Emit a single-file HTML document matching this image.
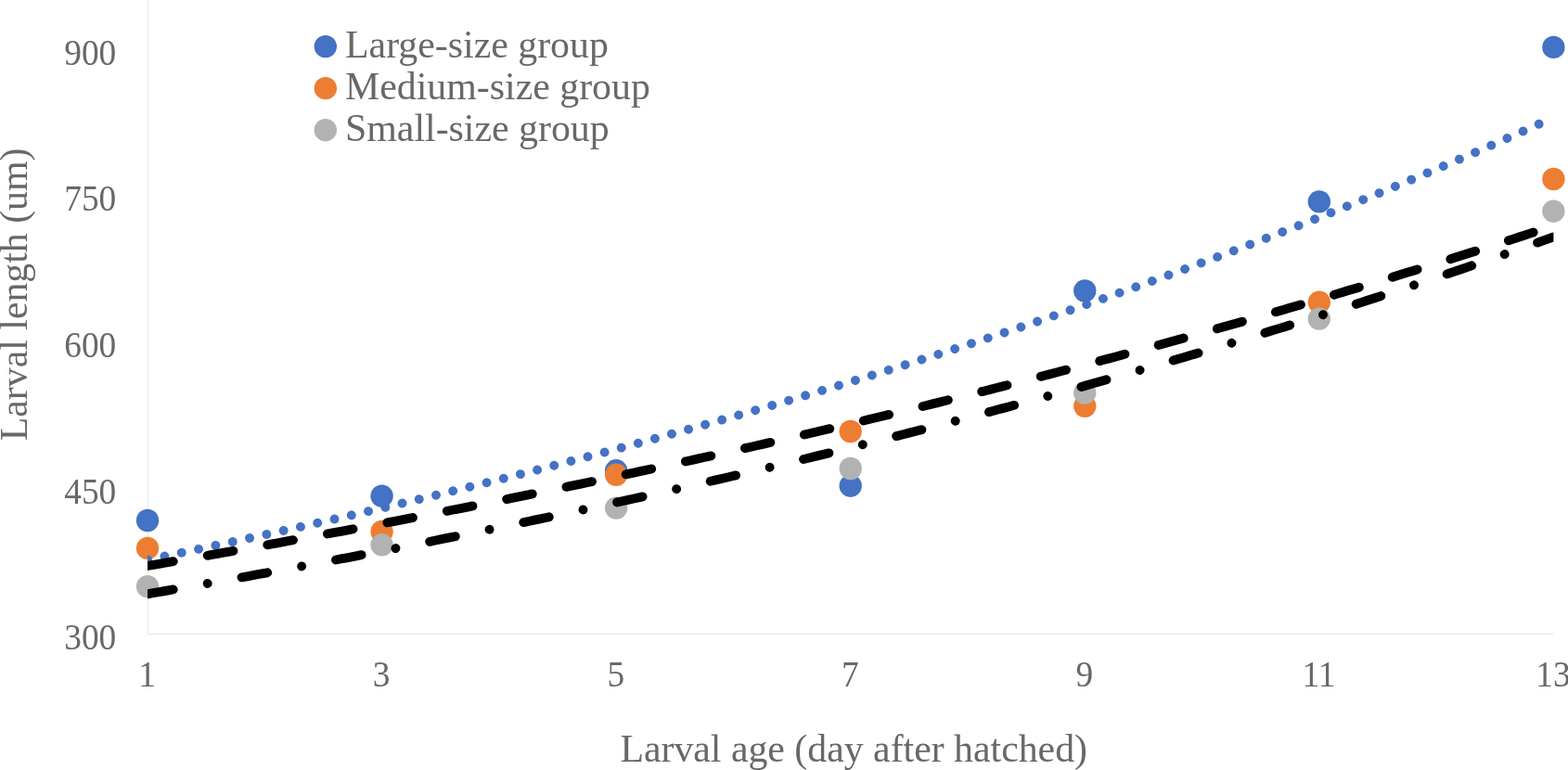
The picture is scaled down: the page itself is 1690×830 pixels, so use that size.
<!DOCTYPE html>
<html lang="en">
<head>
<meta charset="utf-8">
<title>Larval length by larval age</title>
<style>
html,body{margin:0;padding:0;background:#fff;}
body{width:1690px;height:830px;overflow:hidden;}
svg{display:block;}
text{font-family:"Liberation Serif","Times New Roman",Times,serif;fill:#686868;}
.tick{font-size:37.33px;}
.leg{font-size:41.85px;}
.ttl{font-size:41.8px;}
</style>
</head>
<body>
<svg width="1690" height="830" viewBox="0 0 1690 830">
<defs><clipPath id="plot"><rect x="159.0" y="0" width="1515.4" height="683.25"/></clipPath></defs>
<rect width="1690" height="830" fill="#ffffff"/>
<g stroke="#E4E4E4" stroke-width="1" fill="none">
<line x1="159.3" y1="0" x2="159.3" y2="683.75"/>
<line x1="158.8" y1="683.25" x2="1674.4" y2="683.25"/>
</g>
<g class="tick" text-anchor="end">
<text transform="translate(125.2 69.89) scale(1 1.06)">900</text>
<text transform="translate(125.2 227.48) scale(1 1.06)">750</text>
<text transform="translate(125.2 385.07) scale(1 1.06)">600</text>
<text transform="translate(125.2 542.66) scale(1 1.06)">450</text>
<text transform="translate(125.2 700.25) scale(1 1.06)">300</text>
</g>
<g class="tick" text-anchor="middle">
<text transform="translate(158.60 740.3) scale(1 1.06)">1</text>
<text transform="translate(411.17 740.3) scale(1 1.06)">3</text>
<text transform="translate(663.73 740.3) scale(1 1.06)">5</text>
<text transform="translate(916.30 740.3) scale(1 1.06)">7</text>
<text transform="translate(1168.87 740.3) scale(1 1.06)">9</text>
<text transform="translate(1421.43 740.3) scale(1 1.06)">11</text>
<text transform="translate(1674.00 740.3) scale(1 1.06)">13</text>
</g>
<text class="ttl" text-anchor="middle" x="920.2" y="820.7">Larval age (day after hatched)</text>
<text class="ttl" text-anchor="middle" transform="translate(28.8 317.4) rotate(-90)">Larval length (um)</text>
<g fill="#4472C4">
<circle cx="159.00" cy="561.00" r="12.2"/>
<circle cx="411.57" cy="534.70" r="12.2"/>
<circle cx="664.13" cy="507.30" r="12.2"/>
<circle cx="916.70" cy="523.70" r="12.2"/>
<circle cx="1169.27" cy="313.50" r="12.2"/>
<circle cx="1421.83" cy="217.40" r="12.2"/>
<circle cx="1674.40" cy="50.90" r="12.2"/>
</g>
<g fill="#ED7D31">
<circle cx="159.00" cy="590.90" r="12.2"/>
<circle cx="411.57" cy="572.90" r="12.2"/>
<circle cx="664.13" cy="511.80" r="12.2"/>
<circle cx="916.70" cy="465.00" r="12.2"/>
<circle cx="1169.27" cy="437.80" r="12.2"/>
<circle cx="1421.83" cy="325.80" r="12.2"/>
<circle cx="1674.40" cy="193.00" r="12.2"/>
</g>
<g fill="#B2B2B2">
<circle cx="159.00" cy="632.10" r="12.2"/>
<circle cx="411.57" cy="587.30" r="12.2"/>
<circle cx="664.13" cy="547.60" r="12.2"/>
<circle cx="916.70" cy="505.00" r="12.2"/>
<circle cx="1169.27" cy="423.60" r="12.2"/>
<circle cx="1421.83" cy="343.60" r="12.2"/>
<circle cx="1674.40" cy="227.70" r="12.2"/>
</g>
<g clip-path="url(#plot)" fill="none" stroke-width="9.9" stroke-linecap="round" stroke-linejoin="round">
<path d="M159.00 603.39 L165.31 602.08 L171.63 600.77 L177.94 599.46 L184.26 598.14 L190.57 596.82 L196.89 595.49 L203.20 594.16 L209.51 592.83 L215.83 591.49 L222.14 590.14 L228.46 588.79 L234.77 587.44 L241.08 586.08 L247.40 584.72 L253.71 583.35 L260.03 581.98 L266.34 580.61 L272.65 579.23 L278.97 577.84 L285.28 576.45 L291.60 575.06 L297.91 573.66 L304.23 572.26 L310.54 570.85 L316.85 569.43 L323.17 568.02 L329.48 566.60 L335.80 565.17 L342.11 563.74 L348.43 562.30 L354.74 560.86 L361.05 559.42 L367.37 557.96 L373.68 556.51 L380.00 555.05 L386.31 553.58 L392.62 552.12 L398.94 550.64 L405.25 549.16 L411.57 547.68 L417.88 546.19 L424.19 544.69 L430.51 543.19 L436.82 541.69 L443.14 540.18 L449.45 538.67 L455.77 537.15 L462.08 535.63 L468.39 534.10 L474.71 532.56 L481.02 531.02 L487.34 529.48 L493.65 527.93 L499.97 526.38 L506.28 524.82 L512.59 523.25 L518.91 521.68 L525.22 520.11 L531.54 518.53 L537.85 516.94 L544.16 515.35 L550.48 513.75 L556.79 512.15 L563.11 510.55 L569.42 508.93 L575.74 507.32 L582.05 505.69 L588.36 504.07 L594.68 502.43 L600.99 500.79 L607.31 499.15 L613.62 497.50 L619.93 495.85 L626.25 494.19 L632.56 492.52 L638.88 490.85 L645.19 489.17 L651.51 487.49 L657.82 485.80 L664.13 484.11 L670.45 482.41 L676.76 480.70 L683.08 478.99 L689.39 477.28 L695.70 475.56 L702.02 473.83 L708.33 472.10 L714.65 470.36 L720.96 468.61 L727.27 466.86 L733.59 465.11 L739.90 463.34 L746.22 461.58 L752.53 459.80 L758.85 458.02 L765.16 456.24 L771.47 454.45 L777.79 452.65 L784.10 450.85 L790.42 449.04 L796.73 447.22 L803.05 445.40 L809.36 443.57 L815.67 441.74 L821.99 439.90 L828.30 438.06 L834.62 436.20 L840.93 434.35 L847.24 432.48 L853.56 430.61 L859.87 428.74 L866.19 426.86 L872.50 424.97 L878.82 423.07 L885.13 421.17 L891.44 419.27 L897.76 417.35 L904.07 415.43 L910.39 413.51 L916.70 411.57 L923.01 409.63 L929.33 407.69 L935.64 405.74 L941.96 403.78 L948.27 401.82 L954.59 399.84 L960.90 397.87 L967.21 395.88 L973.53 393.89 L979.84 391.89 L986.16 389.89 L992.47 387.88 L998.78 385.86 L1005.10 383.84 L1011.41 381.81 L1017.73 379.77 L1024.04 377.73 L1030.36 375.68 L1036.67 373.62 L1042.98 371.56 L1049.30 369.48 L1055.61 367.41 L1061.93 365.32 L1068.24 363.23 L1074.55 361.13 L1080.87 359.03 L1087.18 356.91 L1093.50 354.79 L1099.81 352.67 L1106.12 350.54 L1112.44 348.39 L1118.75 346.25 L1125.07 344.09 L1131.38 341.93 L1137.70 339.76 L1144.01 337.59 L1150.32 335.40 L1156.64 333.21 L1162.95 331.01 L1169.27 328.81 L1175.58 326.60 L1181.89 324.38 L1188.21 322.15 L1194.52 319.92 L1200.84 317.68 L1207.15 315.43 L1213.47 313.17 L1219.78 310.91 L1226.09 308.63 L1232.41 306.36 L1238.72 304.07 L1245.04 301.78 L1251.35 299.47 L1257.67 297.16 L1263.98 294.85 L1270.29 292.52 L1276.61 290.19 L1282.92 287.85 L1289.24 285.50 L1295.55 283.15 L1301.86 280.79 L1308.18 278.41 L1314.49 276.04 L1320.81 273.65 L1327.12 271.25 L1333.44 268.85 L1339.75 266.44 L1346.06 264.02 L1352.38 261.60 L1358.69 259.16 L1365.01 256.72 L1371.32 254.27 L1377.63 251.81 L1383.95 249.35 L1390.26 246.87 L1396.58 244.39 L1402.89 241.90 L1409.21 239.40 L1415.52 236.89 L1421.83 234.37 L1428.15 231.85 L1434.46 229.32 L1440.78 226.78 L1447.09 224.23 L1453.40 221.67 L1459.72 219.10 L1466.03 216.53 L1472.35 213.94 L1478.66 211.35 L1484.98 208.75 L1491.29 206.14 L1497.60 203.53 L1503.92 200.90 L1510.23 198.27 L1516.55 195.62 L1522.86 192.97 L1529.17 190.31 L1535.49 187.64 L1541.80 184.96 L1548.12 182.27 L1554.43 179.58 L1560.75 176.87 L1567.06 174.16 L1573.37 171.43 L1579.69 168.70 L1586.00 165.96 L1592.32 163.21 L1598.63 160.45 L1604.94 157.68 L1611.26 154.91 L1617.57 152.12 L1623.89 149.32 L1630.20 146.52 L1636.52 143.70 L1642.83 140.88 L1649.14 138.05 L1655.46 135.20 L1661.77 132.35 L1668.09 129.49 L1674.40 126.62" stroke="#4472C4" stroke-dasharray="0.01 18.736"/>
<path d="M159.00 609.93 L165.31 608.85 L171.63 607.77 L177.94 606.69 L184.26 605.60 L190.57 604.51 L196.89 603.42 L203.20 602.32 L209.51 601.22 L215.83 600.12 L222.14 599.02 L228.46 597.91 L234.77 596.80 L241.08 595.69 L247.40 594.57 L253.71 593.45 L260.03 592.33 L266.34 591.20 L272.65 590.07 L278.97 588.94 L285.28 587.81 L291.60 586.67 L297.91 585.53 L304.23 584.38 L310.54 583.23 L316.85 582.08 L323.17 580.93 L329.48 579.77 L335.80 578.61 L342.11 577.44 L348.43 576.28 L354.74 575.11 L361.05 573.93 L367.37 572.76 L373.68 571.58 L380.00 570.39 L386.31 569.21 L392.62 568.02 L398.94 566.82 L405.25 565.63 L411.57 564.43 L417.88 563.22 L424.19 562.02 L430.51 560.81 L436.82 559.59 L443.14 558.38 L449.45 557.16 L455.77 555.93 L462.08 554.70 L468.39 553.47 L474.71 552.24 L481.02 551.00 L487.34 549.76 L493.65 548.52 L499.97 547.27 L506.28 546.02 L512.59 544.77 L518.91 543.51 L525.22 542.25 L531.54 540.98 L537.85 539.71 L544.16 538.44 L550.48 537.17 L556.79 535.89 L563.11 534.61 L569.42 533.32 L575.74 532.03 L582.05 530.74 L588.36 529.44 L594.68 528.14 L600.99 526.84 L607.31 525.53 L613.62 524.22 L619.93 522.90 L626.25 521.58 L632.56 520.26 L638.88 518.94 L645.19 517.61 L651.51 516.27 L657.82 514.94 L664.13 513.60 L670.45 512.25 L676.76 510.90 L683.08 509.55 L689.39 508.20 L695.70 506.84 L702.02 505.47 L708.33 504.11 L714.65 502.74 L720.96 501.36 L727.27 499.98 L733.59 498.60 L739.90 497.22 L746.22 495.83 L752.53 494.43 L758.85 493.04 L765.16 491.63 L771.47 490.23 L777.79 488.82 L784.10 487.41 L790.42 485.99 L796.73 484.57 L803.05 483.14 L809.36 481.72 L815.67 480.28 L821.99 478.85 L828.30 477.41 L834.62 475.96 L840.93 474.51 L847.24 473.06 L853.56 471.60 L859.87 470.14 L866.19 468.68 L872.50 467.21 L878.82 465.74 L885.13 464.26 L891.44 462.78 L897.76 461.29 L904.07 459.80 L910.39 458.31 L916.70 456.81 L923.01 455.31 L929.33 453.81 L935.64 452.30 L941.96 450.78 L948.27 449.26 L954.59 447.74 L960.90 446.21 L967.21 444.68 L973.53 443.15 L979.84 441.61 L986.16 440.06 L992.47 438.52 L998.78 436.96 L1005.10 435.41 L1011.41 433.84 L1017.73 432.28 L1024.04 430.71 L1030.36 429.14 L1036.67 427.56 L1042.98 425.97 L1049.30 424.39 L1055.61 422.80 L1061.93 421.20 L1068.24 419.60 L1074.55 417.99 L1080.87 416.38 L1087.18 414.77 L1093.50 413.15 L1099.81 411.53 L1106.12 409.90 L1112.44 408.27 L1118.75 406.63 L1125.07 404.99 L1131.38 403.35 L1137.70 401.70 L1144.01 400.04 L1150.32 398.38 L1156.64 396.72 L1162.95 395.05 L1169.27 393.38 L1175.58 391.70 L1181.89 390.02 L1188.21 388.33 L1194.52 386.64 L1200.84 384.95 L1207.15 383.24 L1213.47 381.54 L1219.78 379.83 L1226.09 378.11 L1232.41 376.39 L1238.72 374.67 L1245.04 372.94 L1251.35 371.20 L1257.67 369.47 L1263.98 367.72 L1270.29 365.97 L1276.61 364.22 L1282.92 362.46 L1289.24 360.70 L1295.55 358.93 L1301.86 357.16 L1308.18 355.38 L1314.49 353.60 L1320.81 351.81 L1327.12 350.01 L1333.44 348.22 L1339.75 346.41 L1346.06 344.61 L1352.38 342.79 L1358.69 340.98 L1365.01 339.15 L1371.32 337.32 L1377.63 335.49 L1383.95 333.65 L1390.26 331.81 L1396.58 329.96 L1402.89 328.11 L1409.21 326.25 L1415.52 324.39 L1421.83 322.52 L1428.15 320.64 L1434.46 318.76 L1440.78 316.88 L1447.09 314.99 L1453.40 313.10 L1459.72 311.19 L1466.03 309.29 L1472.35 307.38 L1478.66 305.46 L1484.98 303.54 L1491.29 301.61 L1497.60 299.68 L1503.92 297.75 L1510.23 295.80 L1516.55 293.85 L1522.86 291.90 L1529.17 289.94 L1535.49 287.98 L1541.80 286.01 L1548.12 284.03 L1554.43 282.05 L1560.75 280.07 L1567.06 278.07 L1573.37 276.08 L1579.69 274.07 L1586.00 272.07 L1592.32 270.05 L1598.63 268.03 L1604.94 266.01 L1611.26 263.98 L1617.57 261.94 L1623.89 259.90 L1630.20 257.85 L1636.52 255.80 L1642.83 253.74 L1649.14 251.67 L1655.46 249.60 L1661.77 247.53 L1668.09 245.44 L1674.40 243.36" stroke="#000000" stroke-dasharray="28.128 37.504"/>
<path d="M159.00 640.28 L165.31 639.19 L171.63 638.09 L177.94 637.00 L184.26 635.90 L190.57 634.79 L196.89 633.68 L203.20 632.57 L209.51 631.46 L215.83 630.34 L222.14 629.22 L228.46 628.10 L234.77 626.97 L241.08 625.84 L247.40 624.70 L253.71 623.57 L260.03 622.42 L266.34 621.28 L272.65 620.13 L278.97 618.98 L285.28 617.82 L291.60 616.66 L297.91 615.50 L304.23 614.34 L310.54 613.17 L316.85 611.99 L323.17 610.82 L329.48 609.64 L335.80 608.45 L342.11 607.26 L348.43 606.07 L354.74 604.88 L361.05 603.68 L367.37 602.48 L373.68 601.27 L380.00 600.06 L386.31 598.85 L392.62 597.63 L398.94 596.41 L405.25 595.19 L411.57 593.96 L417.88 592.73 L424.19 591.49 L430.51 590.25 L436.82 589.01 L443.14 587.76 L449.45 586.51 L455.77 585.26 L462.08 584.00 L468.39 582.74 L474.71 581.47 L481.02 580.20 L487.34 578.93 L493.65 577.65 L499.97 576.37 L506.28 575.09 L512.59 573.80 L518.91 572.50 L525.22 571.21 L531.54 569.91 L537.85 568.60 L544.16 567.29 L550.48 565.98 L556.79 564.66 L563.11 563.34 L569.42 562.02 L575.74 560.69 L582.05 559.36 L588.36 558.02 L594.68 556.68 L600.99 555.33 L607.31 553.98 L613.62 552.63 L619.93 551.27 L626.25 549.91 L632.56 548.54 L638.88 547.17 L645.19 545.80 L651.51 544.42 L657.82 543.04 L664.13 541.65 L670.45 540.26 L676.76 538.87 L683.08 537.47 L689.39 536.06 L695.70 534.66 L702.02 533.24 L708.33 531.83 L714.65 530.41 L720.96 528.98 L727.27 527.55 L733.59 526.12 L739.90 524.68 L746.22 523.24 L752.53 521.79 L758.85 520.34 L765.16 518.88 L771.47 517.42 L777.79 515.96 L784.10 514.49 L790.42 513.01 L796.73 511.54 L803.05 510.05 L809.36 508.57 L815.67 507.07 L821.99 505.58 L828.30 504.08 L834.62 502.57 L840.93 501.06 L847.24 499.55 L853.56 498.03 L859.87 496.51 L866.19 494.98 L872.50 493.44 L878.82 491.91 L885.13 490.36 L891.44 488.82 L897.76 487.26 L904.07 485.71 L910.39 484.15 L916.70 482.58 L923.01 481.01 L929.33 479.43 L935.64 477.85 L941.96 476.27 L948.27 474.68 L954.59 473.08 L960.90 471.48 L967.21 469.88 L973.53 468.27 L979.84 466.66 L986.16 465.04 L992.47 463.41 L998.78 461.78 L1005.10 460.15 L1011.41 458.51 L1017.73 456.87 L1024.04 455.22 L1030.36 453.56 L1036.67 451.90 L1042.98 450.24 L1049.30 448.57 L1055.61 446.90 L1061.93 445.22 L1068.24 443.53 L1074.55 441.84 L1080.87 440.15 L1087.18 438.45 L1093.50 436.74 L1099.81 435.03 L1106.12 433.32 L1112.44 431.59 L1118.75 429.87 L1125.07 428.14 L1131.38 426.40 L1137.70 424.66 L1144.01 422.91 L1150.32 421.16 L1156.64 419.40 L1162.95 417.64 L1169.27 415.87 L1175.58 414.10 L1181.89 412.32 L1188.21 410.53 L1194.52 408.74 L1200.84 406.95 L1207.15 405.14 L1213.47 403.34 L1219.78 401.53 L1226.09 399.71 L1232.41 397.88 L1238.72 396.06 L1245.04 394.22 L1251.35 392.38 L1257.67 390.54 L1263.98 388.69 L1270.29 386.83 L1276.61 384.97 L1282.92 383.10 L1289.24 381.22 L1295.55 379.34 L1301.86 377.46 L1308.18 375.57 L1314.49 373.67 L1320.81 371.77 L1327.12 369.86 L1333.44 367.95 L1339.75 366.03 L1346.06 364.10 L1352.38 362.17 L1358.69 360.23 L1365.01 358.29 L1371.32 356.34 L1377.63 354.38 L1383.95 352.42 L1390.26 350.46 L1396.58 348.48 L1402.89 346.50 L1409.21 344.52 L1415.52 342.53 L1421.83 340.53 L1428.15 338.53 L1434.46 336.52 L1440.78 334.50 L1447.09 332.48 L1453.40 330.45 L1459.72 328.42 L1466.03 326.38 L1472.35 324.33 L1478.66 322.28 L1484.98 320.22 L1491.29 318.15 L1497.60 316.08 L1503.92 314.01 L1510.23 311.92 L1516.55 309.83 L1522.86 307.73 L1529.17 305.63 L1535.49 303.52 L1541.80 301.40 L1548.12 299.28 L1554.43 297.15 L1560.75 295.02 L1567.06 292.88 L1573.37 290.73 L1579.69 288.57 L1586.00 286.41 L1592.32 284.24 L1598.63 282.07 L1604.94 279.89 L1611.26 277.70 L1617.57 275.50 L1623.89 273.30 L1630.20 271.09 L1636.52 268.88 L1642.83 266.66 L1649.14 264.43 L1655.46 262.19 L1661.77 259.95 L1668.09 257.70 L1674.40 255.45" stroke="#000000" stroke-dasharray="28.128 37.504 0.01 37.494"/>
</g>
<g class="leg">
<circle cx="350.8" cy="50.10" r="12.2" fill="#4472C4"/>
<text x="372.0" y="61.60">Large-size group</text>
<circle cx="350.8" cy="95.15" r="12.2" fill="#ED7D31"/>
<text x="372.0" y="106.65">Medium-size group</text>
<circle cx="350.8" cy="140.20" r="12.2" fill="#B2B2B2"/>
<text x="372.0" y="151.70">Small-size group</text>
</g>
</svg>
</body>
</html>
